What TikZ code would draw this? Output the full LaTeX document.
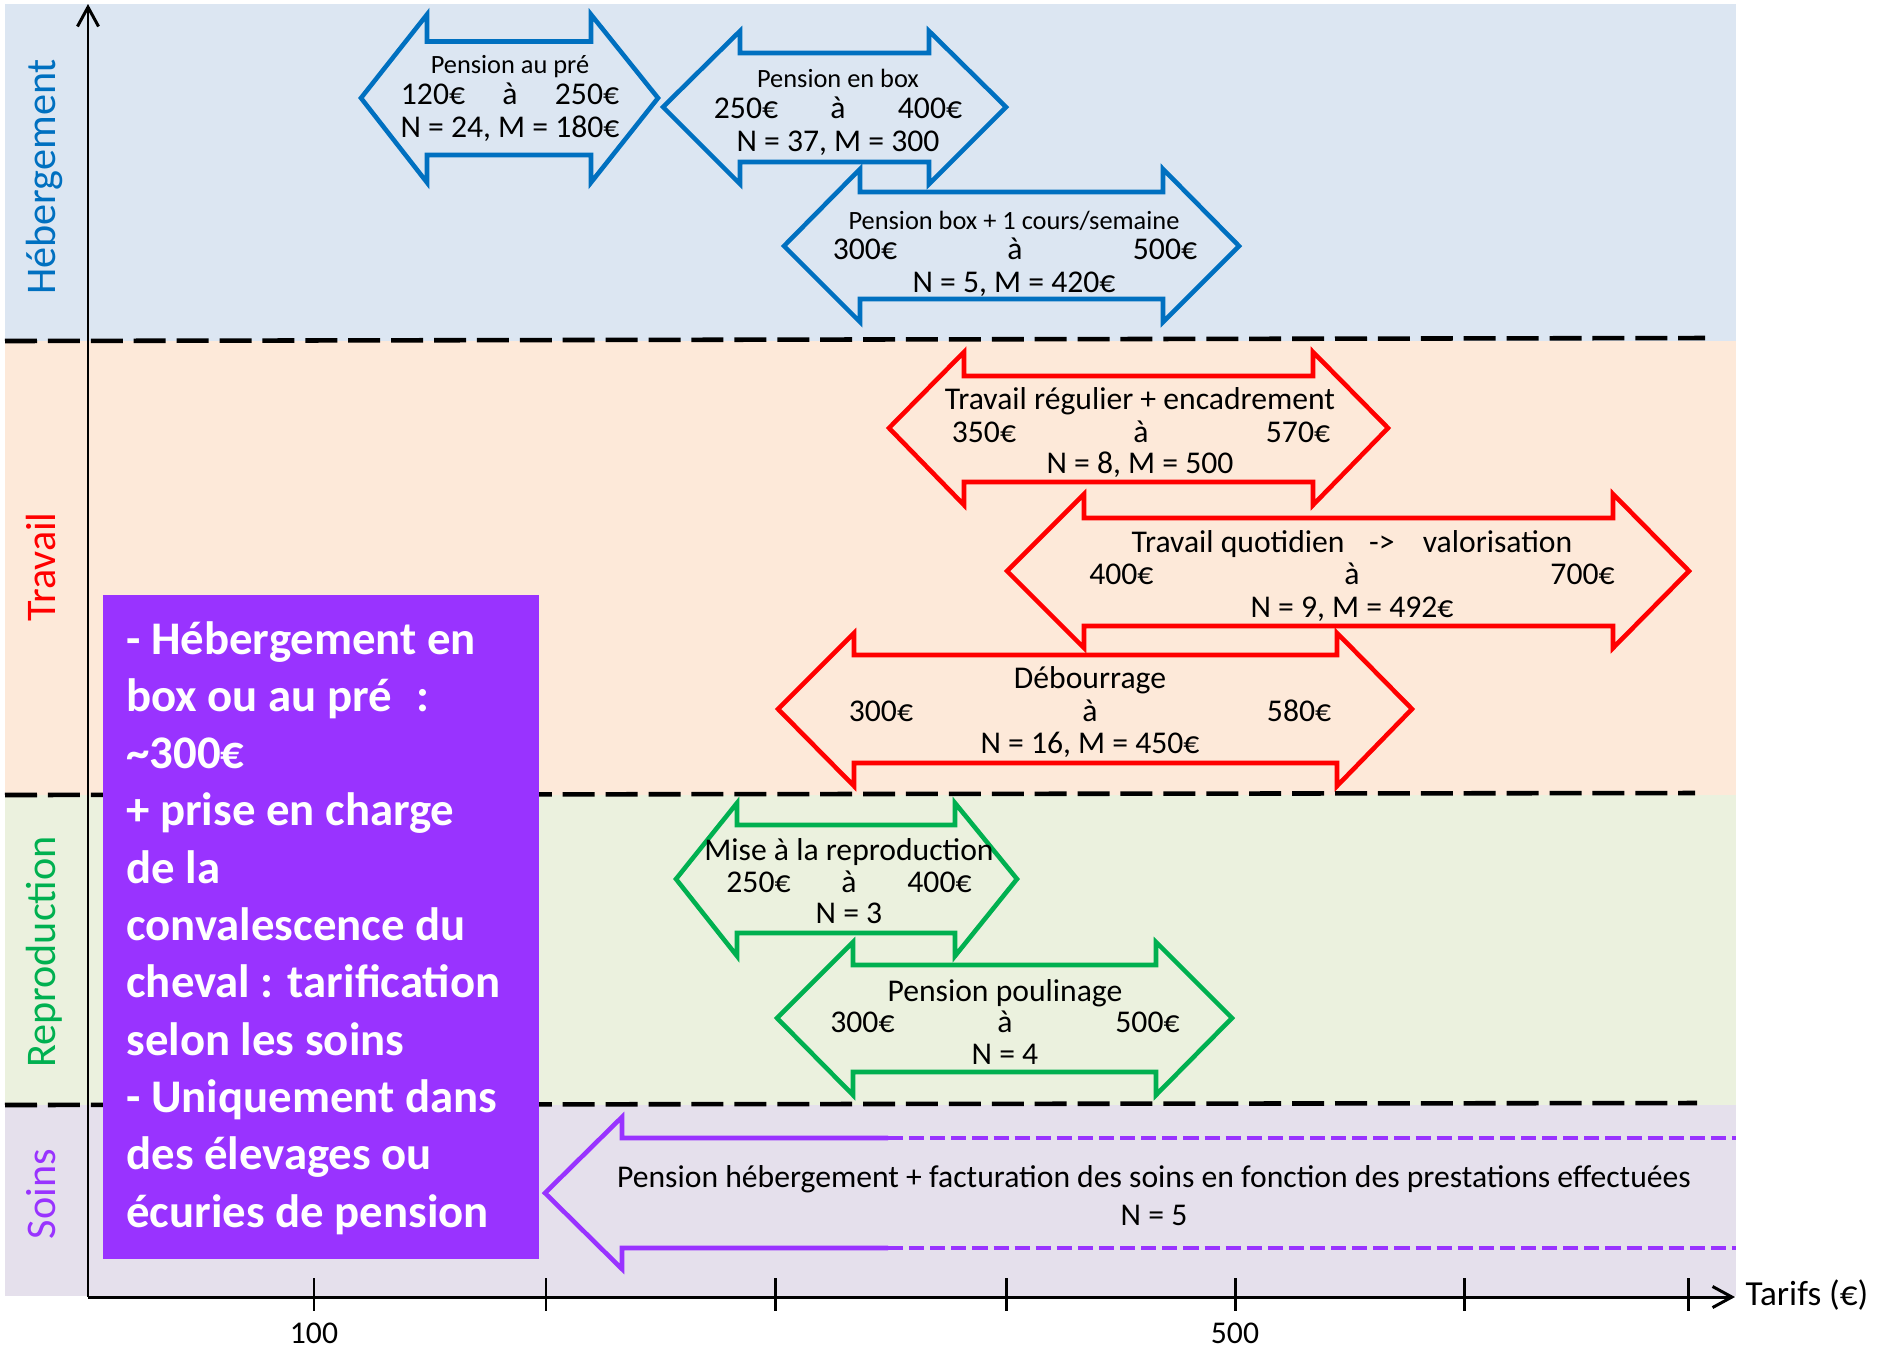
\documentclass[tikz,border=0pt]{standalone}
\usepackage{fontspec}
\setmainfont{Carlito}
\usepackage{xcolor}
\usepackage{tikz}
\usetikzlibrary{arrows.meta}

\definecolor{hebcol}{HTML}{0070C0}
\definecolor{travcol}{HTML}{FF0000}
\definecolor{reprocol}{HTML}{00B050}
\definecolor{soincol}{HTML}{9933FF}
\definecolor{hebfond}{HTML}{DCE6F2}
\definecolor{travfond}{HTML}{FDE9D9}
\definecolor{reprofond}{HTML}{EBF1DE}
\definecolor{soinfond}{HTML}{E5E0EC}

\begin{document}
\begin{tikzpicture}[x=0.01cm,y=-0.01cm,
  sep/.style={line width=1.3pt,dash pattern=on 9.1pt off 3.1pt},
  axis/.style={line width=0.85pt},
  fleche/.style={line width=1.3pt,line join=miter},
  lab/.style={anchor=base,inner sep=0pt,font=\fontsize{9}{9}\selectfont},
  titre/.style={anchor=base,inner sep=0pt,font=\fontsize{7.5}{7.5}\selectfont},
  cote/.style={anchor=base,rotate=90,inner sep=0pt,font=\fontsize{12}{12}\selectfont}]
\useasboundingbox (0,0) rectangle (1887,1350);
% bandes
\fill[hebfond] (5,4) rectangle (1736,341);
\fill[travfond] (5,341) rectangle (1736,795);
\fill[reprofond] (5,795) rectangle (1736,1105);
\fill[soinfond] (5,1105) rectangle (1736,1296);
\draw[sep] (5,341) -- (1705,338);
\draw[sep] (5,795) -- (1695,793);
\draw[sep] (5,1105) -- (1697,1103);
% axes
\coordinate (O) at (88,1297); \coordinate (ytop) at (88,4); \coordinate (xend) at (1735,1297);
\draw[axis,-{Straight Barb[length=5.5pt,width=6pt]}] (O) -- (ytop);
\draw[axis,-{Straight Barb[length=5.5pt,width=6pt]}] (O) -- (xend);
\foreach \x in {314,546,775,1006,1235,1464,1688} \draw[axis] (\x,1278) -- (\x,1311);
\draw (314,1343) node[lab] (t100) {100} (1235,1343) node[lab] (t500) {500};
\node[anchor=base west,inner sep=0pt,font=\fontsize{10}{10}\selectfont] (tarifs) at (1745,1305) {Tarifs (€)};
% categories
\node[cote,hebcol] (hlab) at (55,177) {Hébergement};
\node[cote,travcol] (tlab) at (55,567) {Travail};
\node[cote,reprocol] (rlab) at (55,952) {Reproduction};
\node[cote,soincol] (slab) at (55,1194) {Soins};
% encadre
\fill[soincol] (102.5,595) rectangle (538.5,1259);
\node[anchor=base west,inner sep=0pt,text=white,font=\fontsize{13.3}{16.3}\selectfont\bfseries] (info) at (125.7,654)
  {\begin{tabular}[t]{@{}l@{}}- Hébergement en\\ box ou au pré\hspace{7pt}:\\ \textasciitilde300€\\ + prise en charge\\ de la\\ convalescence du\\ cheval : tarification\\ selon les soins\\ - Uniquement dans\\ des élevages ou\\ écuries de pension\end{tabular}};
% hebergement
\draw[fleche,hebcol] (361,98) -- (427,14.5) -- (427,41.5) -- (591,41.5) -- (591,14.5) -- (658,98) -- (591,182.5) -- (591,155) -- (427,155) -- (427,182.5) -- cycle;
\draw[fleche,hebcol] (663,107) -- (740,31) -- (740,53) -- (929,53) -- (929,31) -- (1006,107) -- (929,184) -- (929,162) -- (740,162) -- (740,184) -- cycle;
\draw[fleche,hebcol] (784,246) -- (860,169) -- (860,192) -- (1163,192) -- (1163,169) -- (1239,246) -- (1163,322) -- (1163,299) -- (860,299) -- (860,322) -- cycle;
\draw (510,73) node[titre] (pre1) {Pension au pré} (510,104) node[lab] (pre2) {\makebox[2.18cm]{120€\hfill à\hfill 250€}} (510,137) node[lab] (pre3) {N = 24, M = 180€};
\draw (838,87) node[titre] (box1) {Pension en box} (838,118) node[lab] (box2) {\makebox[2.48cm]{250€\hfill à\hfill 400€}} (838,151) node[lab] (box3) {N = 37, M = 300};
\draw (1014,229) node[titre] (cours1) {Pension box + 1 cours/semaine} (1015,259) node[lab] (cours2) {\makebox[3.64cm]{300€\hfill à\hfill 500€}} (1014,292) node[lab] (cours3) {N = 5, M = 420€};
% travail
\draw[fleche,travcol] (889,428) -- (964,352) -- (964,376) -- (1313,376) -- (1313,352) -- (1388,428) -- (1313,505) -- (1313,482) -- (964,482) -- (964,505) -- cycle;
\draw[fleche,travcol] (1007,571) -- (1084,494) -- (1084,518) -- (1613,518) -- (1613,494) -- (1689,571) -- (1613,648) -- (1613,626) -- (1084,626) -- (1084,648) -- cycle;
\draw[fleche,travcol] (778,709) -- (854,633) -- (854,655) -- (1337,655) -- (1337,633) -- (1412,709) -- (1337,786) -- (1337,763) -- (854,763) -- (854,786) -- cycle;
\draw (1140,409) node[lab] (reg1) {Travail régulier + encadrement} (1141,442) node[lab] (reg2) {\makebox[3.78cm]{350€\hfill à\hfill 570€}} (1140,473) node[lab] (reg3) {N = 8, M = 500};
\draw (1352,552) node[lab] (quot1) {Travail quotidien\hspace{7pt}->\hspace{8pt}valorisation} (1352,584) node[lab] (quot2) {\makebox[5.25cm]{400€\hfill à\hfill 700€}} (1352,617) node[lab] (quot3) {N = 9, M = 492€};
\draw (1090,688) node[lab] (deb1) {Débourrage} (1090,721) node[lab] (deb2) {\makebox[4.82cm]{300€\hfill à\hfill 580€}} (1090,753) node[lab] (deb3) {N = 16, M = 450€};
% reproduction
\draw[fleche,reprocol] (676,879) -- (737,803) -- (737,825) -- (955,825) -- (955,803) -- (1017,879) -- (955,956) -- (955,933) -- (737,933) -- (737,956) -- cycle;
\draw[fleche,reprocol] (777,1018) -- (853,942) -- (853,965) -- (1156,965) -- (1156,942) -- (1232,1018) -- (1156,1095) -- (1156,1072) -- (853,1072) -- (853,1095) -- cycle;
\draw (849,860) node[lab] (mise1) {Mise à la reproduction} (849,892) node[lab] (mise2) {\makebox[2.45cm]{250€\hfill à\hfill 400€}} (849,923) node[lab] (mise3) {N = 3};
\draw (1005,1001) node[lab] (poul1) {Pension poulinage} (1005,1032) node[lab] (poul2) {\makebox[3.49cm]{300€\hfill à\hfill 500€}} (1005,1064) node[lab] (poul3) {N = 4};
% soins
\draw[fleche,soincol] (888,1138) -- (622,1138) -- (622,1117) -- (545,1193) -- (622,1269) -- (622,1248) -- (888,1248);
\draw[fleche,soincol,dash pattern=on 4.3pt off 1.7pt] (888,1138) -- (1736,1138) (888,1248) -- (1736,1248);
\draw (1154,1187) node[lab] (soin1) {Pension hébergement + facturation des soins en fonction des prestations effectuées} (1154,1225) node[lab] (soin2) {N = 5};
\end{tikzpicture}
\end{document}
